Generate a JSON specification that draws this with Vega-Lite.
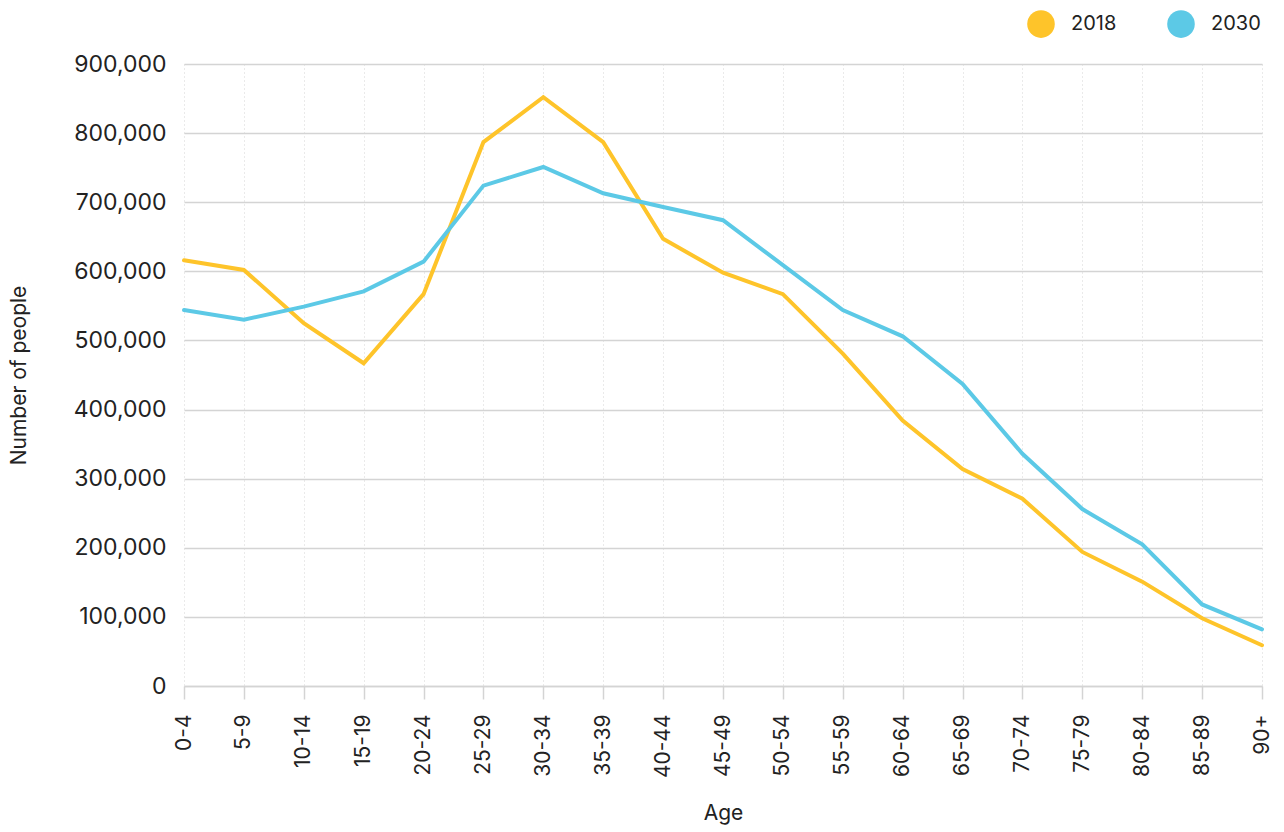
{
  "$schema": "https://vega.github.io/schema/vega-lite/v6.json",
  "width": 1078,
  "height": 622,
  "autosize": "none",
  "padding": {"left": 184, "top": 64, "right": 22, "bottom": 146},
  "background": "white",
  "config": {
    "font": "Inter",
    "view": {"stroke": null}
  },
  "data": {
    "values": [
      {"age": "0-4", "year": "2018", "people": 616000},
      {"age": "5-9", "year": "2018", "people": 602000},
      {"age": "10-14", "year": "2018", "people": 525000},
      {"age": "15-19", "year": "2018", "people": 467000},
      {"age": "20-24", "year": "2018", "people": 567000},
      {"age": "25-29", "year": "2018", "people": 787000},
      {"age": "30-34", "year": "2018", "people": 852000},
      {"age": "35-39", "year": "2018", "people": 787000},
      {"age": "40-44", "year": "2018", "people": 647000},
      {"age": "45-49", "year": "2018", "people": 598000},
      {"age": "50-54", "year": "2018", "people": 567000},
      {"age": "55-59", "year": "2018", "people": 481000},
      {"age": "60-64", "year": "2018", "people": 384000},
      {"age": "65-69", "year": "2018", "people": 314000},
      {"age": "70-74", "year": "2018", "people": 271000},
      {"age": "75-79", "year": "2018", "people": 194000},
      {"age": "80-84", "year": "2018", "people": 151000},
      {"age": "85-89", "year": "2018", "people": 98000},
      {"age": "90+", "year": "2018", "people": 59000},
      {"age": "0-4", "year": "2030", "people": 544000},
      {"age": "5-9", "year": "2030", "people": 530000},
      {"age": "10-14", "year": "2030", "people": 549000},
      {"age": "15-19", "year": "2030", "people": 571000},
      {"age": "20-24", "year": "2030", "people": 614000},
      {"age": "25-29", "year": "2030", "people": 724000},
      {"age": "30-34", "year": "2030", "people": 751000},
      {"age": "35-39", "year": "2030", "people": 713000},
      {"age": "40-44", "year": "2030", "people": 693000},
      {"age": "45-49", "year": "2030", "people": 674000},
      {"age": "50-54", "year": "2030", "people": 609000},
      {"age": "55-59", "year": "2030", "people": 544000},
      {"age": "60-64", "year": "2030", "people": 506000},
      {"age": "65-69", "year": "2030", "people": 437000},
      {"age": "70-74", "year": "2030", "people": 336000},
      {"age": "75-79", "year": "2030", "people": 256000},
      {"age": "80-84", "year": "2030", "people": 205000},
      {"age": "85-89", "year": "2030", "people": 118000},
      {"age": "90+", "year": "2030", "people": 82000}
    ]
  },
  "mark": {"type": "line", "strokeWidth": 4, "strokeCap": "round", "strokeJoin": "miter"},
  "encoding": {
    "x": {
      "field": "age",
      "type": "ordinal",
      "sort": null,
      "scale": {"type": "point", "padding": 0},
      "axis": {
        "title": "Age",
        "titleFontSize": 21,
        "titleFontWeight": "normal",
        "titleColor": "#222222",
        "titlePadding": 25,
        "labelAngle": -90,
        "labelFontSize": 21,
        "labelColor": "#222222",
        "labelPadding": 15,
        "tickSize": 13,
        "tickColor": "#d4d4d4",
        "tickWidth": 1.5,
        "domainColor": "#d4d4d4",
        "domainWidth": 1.5,
        "grid": true,
        "gridColor": "#d4d4d4",
        "gridDash": [1, 3],
        "gridWidth": 1
      }
    },
    "y": {
      "field": "people",
      "type": "quantitative",
      "scale": {"domain": [0, 900000], "nice": false},
      "axis": {
        "title": "Number of people",
        "titleFontSize": 21,
        "titleFontWeight": "normal",
        "titleColor": "#222222",
        "titlePadding": 44,
        "values": [0, 100000, 200000, 300000, 400000, 500000, 600000, 700000, 800000, 900000],
        "format": ",d",
        "labelFontSize": 23,
        "labelColor": "#222222",
        "labelPadding": 18,
        "ticks": false,
        "domain": false,
        "grid": true,
        "gridColor": "#d4d4d4",
        "gridWidth": 1.5
      }
    },
    "color": {
      "field": "year",
      "type": "nominal",
      "scale": {"domain": ["2018", "2030"], "range": ["#FEC42A", "#5CC9E6"]},
      "legend": {
        "title": null,
        "orient": "none",
        "legendX": 843,
        "legendY": -54,
        "direction": "horizontal",
        "symbolType": "circle",
        "symbolSize": 760,
        "symbolStrokeWidth": 0,
        "labelFontSize": 20,
        "labelColor": "#222222",
        "labelOffset": 16,
        "columnPadding": 50,
        "encode": {
          "symbols": {
            "update": {
              "fill": {"scale": "color", "field": "value"},
              "fillOpacity": {"value": 1},
              "strokeWidth": {"value": 0}
            }
          }
        }
      }
    }
  }
}
